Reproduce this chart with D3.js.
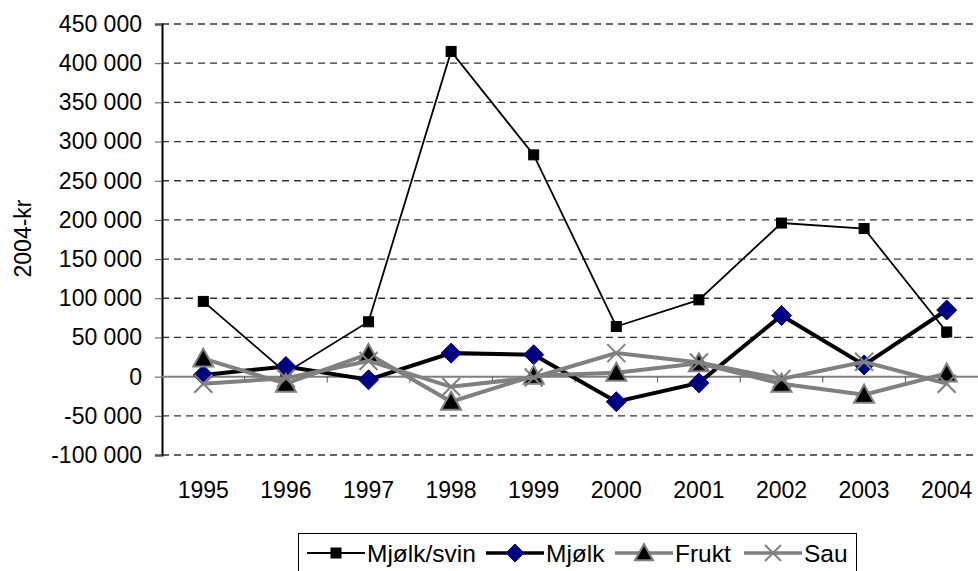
<!DOCTYPE html>
<html>
<head>
<meta charset="utf-8">
<script src="https://cdn.jsdelivr.net/npm/d3@7"></script>
<style>
  html, body { margin: 0; padding: 0; background: #fff; }
  svg { display: block; font-family: "Liberation Sans", Arial, sans-serif; }
</style>
</head>
<body>
<svg id="chart" width="978" height="571"></svg>
<script>
// ---- Data ----
const years = ["1995","1996","1997","1998","1999","2000","2001","2002","2003","2004"];
const mjolkSvin = [96000, 5000, 70000, 415000, 283000, 64000, 98000, 196000, 189000, 57000];
const mjolk     = [2000, 13000, -4000, 30000, 28000, -32000, -8000, 78000, 15000, 85000];
const frukt     = [23000, -9000, 29000, -32000, 1000, 5000, 17000, -9000, -23000, 4000];
const sau       = [-9000, -2000, 20000, -13000, -1000, 30000, 18000, -3000, 19000, -9000];
const yTicks    = [-100000, -50000, 0, 50000, 100000, 150000, 200000, 250000, 300000, 350000, 400000, 450000];
const seriesNames = ["Mjølk/svin", "Mjølk", "Frukt", "Sau"];
const yLabel = "2004-kr";

// ---- Layout ----
const svg = d3.select("#chart");
const mLeft = 162, mRight = 988, mTop = 24, mBottom = 455;
const FS = 23;
const LFS = 24.5;

const x = d3.scaleBand().domain(years).range([mLeft, mRight]).padding(0);
const cx = d => x(d) + x.bandwidth() / 2;
const y = d3.scaleLinear().domain([-100000, 450000]).range([mBottom, mTop]);

const loc = d3.formatLocale({decimal: ",", thousands: "\u00a0", grouping: [3], currency: ["", ""], minus: "-"});
const fmt = loc.format(",d");

// gridlines
svg.append("g")
  .selectAll("line")
  .data(yTicks.filter(v => v !== 0))
  .join("line")
  .attr("x1", mLeft).attr("x2", mRight)
  .attr("y1", d => y(d)).attr("y2", d => y(d))
  .attr("stroke", "#333").attr("stroke-width", 1.3)
  .attr("stroke-dasharray", "7,5");

// y axis
const yAxis = svg.append("g")
  .attr("transform", `translate(${mLeft},0)`)
  .call(d3.axisLeft(y).tickValues(yTicks).tickFormat(fmt).tickSize(7).tickPadding(13));
yAxis.select(".domain").attr("stroke", "#000").attr("stroke-width", 2);
yAxis.selectAll(".tick line").attr("stroke", "#555");
yAxis.selectAll("text").attr("font-size", FS).attr("fill", "#000")
  .attr("font-family", "'Liberation Sans', Arial, sans-serif");

// x axis at zero line
const xAxisG = svg.append("g").attr("transform", `translate(0,${y(0)})`);
xAxisG.append("line").attr("x1", mLeft).attr("x2", mRight).attr("y1", 0).attr("y2", 0)
  .attr("stroke", "#808080").attr("stroke-width", 2);
xAxisG.selectAll("line.tk").data(years.slice(1)).join("line").attr("class", "tk")
  .attr("x1", d => x(d)).attr("x2", d => x(d)).attr("y1", 0).attr("y2", 6)
  .attr("stroke", "#555").attr("stroke-width", 1);

// year labels
svg.append("g").selectAll("text").data(years).join("text")
  .attr("x", d => cx(d)).attr("y", 498)
  .attr("text-anchor", "middle").attr("font-size", FS).attr("fill", "#000")
  .text(d => d);

// y label
svg.append("text")
  .attr("transform", `translate(31,238.5) rotate(-90)`)
  .attr("text-anchor", "middle").attr("font-size", FS).attr("fill", "#000")
  .text(yLabel);

// ---- Marker drawers ----
function square(g, s) {
  g.append("rect").attr("x", -s/2).attr("y", -s/2).attr("width", s).attr("height", s)
    .attr("fill", "#000").attr("stroke", "#000").attr("stroke-width", 1);
}
function diamond(g, s) {
  g.append("path").attr("d", `M0,${-s}L${s},0L0,${s}L${-s},0Z`)
    .attr("fill", "#000080").attr("stroke", "#000080").attr("stroke-width", 1);
}
function triangle(g, s) {
  g.append("path").attr("d", `M0,${-s}L${s},${s*0.8}L${-s},${s*0.8}Z`)
    .attr("fill", "#000").attr("stroke", "#808080").attr("stroke-width", 2);
}
function cross(g, s) {
  g.append("path").attr("d", `M${-s},${-s}L${s},${s}M${-s},${s}L${s},${-s}`)
    .attr("fill", "none").attr("stroke", "#808080").attr("stroke-width", 2);
}

const series = [
  {name: seriesNames[0], values: mjolkSvin, color: "#000", width: 1.8, marker: g => square(g, 10), lm: g => square(g, 10)},
  {name: seriesNames[1], values: mjolk, color: "#000", width: 4, marker: g => diamond(g, 10), lm: g => diamond(g, 9)},
  {name: seriesNames[2], values: frukt, color: "#808080", width: 4, marker: g => triangle(g, 10), lm: g => triangle(g, 9)},
  {name: seriesNames[3], values: sau, color: "#808080", width: 4, marker: g => cross(g, 9), lm: g => cross(g, 8)}
];

const line = d3.line().x((d, i) => cx(years[i])).y(d => y(d));

series.forEach(s => {
  const g = svg.append("g");
  g.append("path").datum(s.values).attr("d", line)
    .attr("fill", "none").attr("stroke", s.color).attr("stroke-width", s.width)
    .attr("stroke-linejoin", "miter");
  s.values.forEach((v, i) => {
    const mg = g.append("g").attr("transform", `translate(${cx(years[i])},${y(v)})`);
    s.marker(mg);
  });
});

// ---- Legend ----
const lg = svg.append("g");
lg.append("rect").attr("x", 298.5).attr("y", 533.5).attr("width", 558).attr("height", 45)
  .attr("fill", "#fff").attr("stroke", "#000").attr("stroke-width", 1);
const legendPos = [{x1: 307, x2: 365, tx: 367}, {x1: 486, x2: 544, tx: 546}, {x1: 615, x2: 673, tx: 675}, {x1: 744, x2: 802, tx: 804}];
series.forEach((s, i) => {
  const p = legendPos[i];
  const ly = 553;
  lg.append("line").attr("x1", p.x1).attr("x2", p.x2).attr("y1", ly).attr("y2", ly)
    .attr("stroke", s.color).attr("stroke-width", s.width === 4 ? 3.5 : s.width);
  const mg = lg.append("g").attr("transform", `translate(${(p.x1 + p.x2) / 2},${ly})`);
  s.lm(mg);
  lg.append("text").attr("x", p.tx).attr("y", ly + 9).attr("font-size", LFS).attr("fill", "#000").text(s.name);
});
</script>
</body>
</html>
